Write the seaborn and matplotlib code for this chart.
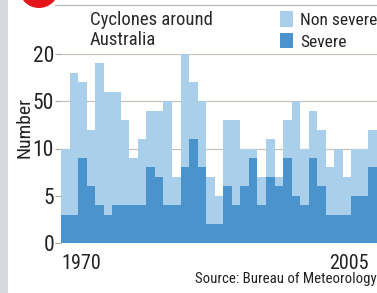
import matplotlib
matplotlib.use("Agg")
import matplotlib.pyplot as plt
import seaborn as sns
import pandas as pd
from matplotlib.patches import Patch, Ellipse, Rectangle
from matplotlib.lines import Line2D

years = list(range(1970, 2007))
severe = [3, 3, 9, 6, 4, 3, 4, 4, 4, 4, 8, 7, 4, 4, 8, 11, 8, 2, 2, 6,
          4, 6, 9, 4, 7, 6, 9, 5, 4, 9, 6, 3, 3, 3, 5, 5, 8]
non_severe = [7, 15, 8, 6, 15, 13, 12, 9, 5, 7, 6, 7, 11, 3, 12, 6, 7, 5, 3, 7,
              9, 4, 1, 3, 4, 1, 4, 10, 6, 5, 6, 5, 7, 4, 5, 5, 4]
ytick_values = [0, 5, 10, 15, 20]
ytick_labels = ["0", "5", "10", "50", "20"]
xtick_labels = ["1970", "2005"]

LIGHT = "#a9cfeb"
DARK = "#4a93cc"
FONT = ["Liberation Sans Narrow", "Roboto Condensed", "DejaVu Sans"]
TXT = "#222222"

sns.set_theme(style="white")
plt.rcParams["font.family"] = FONT
plt.rcParams["font.stretch"] = "condensed"

df = pd.DataFrame({"year": [str(y) for y in years],
                   "severe": severe,
                   "total": [a + b for a, b in zip(severe, non_severe)]})

W, H = 377, 293
fig = plt.figure(figsize=(W / 100, H / 100), dpi=100)
fig.add_artist(Rectangle((0, 0), 8 / W, 1, transform=fig.transFigure,
                         facecolor="#d5d9de", edgecolor="none", zorder=0))
ax = fig.add_axes([61 / W, (H - 243) / H, (W - 61) / W, (243 - 54) / H])

sns.barplot(data=df, x="year", y="total", color=LIGHT, width=1.0,
            saturation=1, ax=ax, linewidth=0, zorder=2)
sns.barplot(data=df, x="year", y="severe", color=DARK, width=1.0,
            saturation=1, ax=ax, linewidth=0, zorder=3)

ax.set_xlim(-0.5, len(years) - 0.5)
ax.set_ylim(0, 20)
ax.set_yticks(ytick_values)
ax.set_yticklabels(ytick_labels, fontsize=15.5, color=TXT)
ax.yaxis.grid(True, color="#c8c2ba", linewidth=0.9, zorder=0)
ax.set_axisbelow(True)
ax.tick_params(axis="y", length=4, width=0.8, color="#b0aaa4", pad=1, left=True)
for s in ax.spines.values():
    s.set_visible(False)

ax.set_xticks([-0.5, years.index(2005) + 0.5])
ax.set_xticklabels(xtick_labels, fontsize=14.5, color=TXT)
ax.tick_params(axis="x", length=0, pad=8)
lbls = ax.get_xticklabels()
lbls[0].set_horizontalalignment("left")
lbls[1].set_horizontalalignment("right")
ax.set_xlabel("")
ax.set_ylabel("Number", fontsize=14, color=TXT, labelpad=0)
ax.yaxis.set_label_coords((33 - 61) / (W - 61), (243 - 127) / (243 - 54))

# title
fig.text(90 / W, 1 - 11 / H, "Cyclones around\nAustralia", fontsize=13.5,
         color="#2a2a2a", ha="left", va="top", linespacing=1.15)

# legend
handles = [Patch(facecolor=LIGHT, edgecolor="none", label="Non severe"),
           Patch(facecolor=DARK, edgecolor="none", label="Severe")]
fig.legend(handles=handles, loc="upper left", bbox_to_anchor=(280 / W, 1 - 11 / H),
           frameon=False, fontsize=12.5, handlelength=0.75, handleheight=1.0,
           handletextpad=0.4, labelspacing=0.3, borderpad=0, borderaxespad=0,
           labelcolor=TXT)

# source
fig.text(1.0, 1 - 279 / H, "Source: Bureau of Meteorology", fontsize=10.7,
         color=TXT, ha="right", va="center")

# top decoration: rule and red circle
fig.add_artist(Line2D([55 / W, 1.0], [1 - 5 / H, 1 - 5 / H], color="#bdbdbd",
                      linewidth=1.0, transform=fig.transFigure))
fig.add_artist(Ellipse((39 / W, 1 + 12 / H), 40 / W, 40 / H,
                       transform=fig.transFigure, facecolor="#e3151a",
                       edgecolor="none"))

fig.savefig("out.png", dpi=100)
